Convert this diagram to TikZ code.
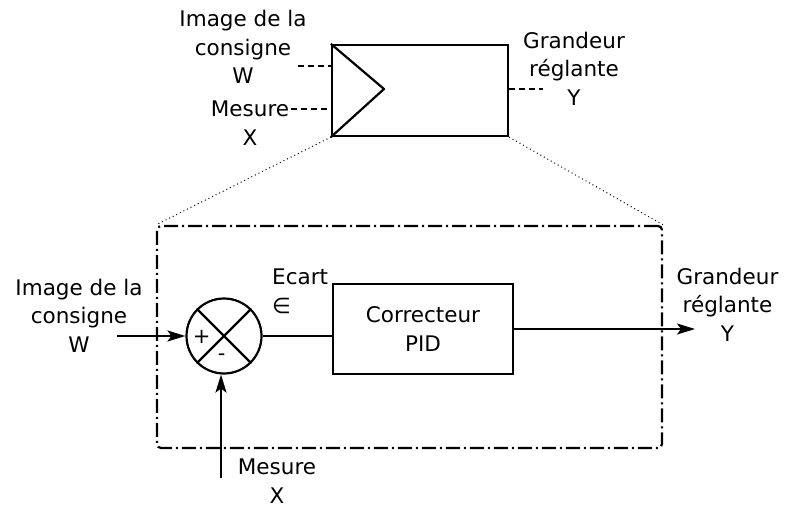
\documentclass[tikz,border=0pt]{standalone}
\usepackage{fontspec}
\setmainfont{DejaVu Sans}
\usetikzlibrary{arrows.meta,calc}
\begin{document}
\begin{tikzpicture}[x=1pt,y=-1pt,
  lbl/.style={align=center,font=\fontsize{21.5}{28.5}\selectfont,inner sep=0pt},
  blk/.style={draw,line width=2.2pt,inner sep=0pt},
  wire/.style={line width=2.2pt},
  arr/.style={line width=2.2pt,-{Stealth[length=18pt,width=11pt,inset=4pt]}},
  stub/.style={line width=2.2pt,dash pattern=on 6pt off 4pt},
  zoomline/.style={line width=1pt,dash pattern=on 1pt off 3pt},
  frm/.style={draw,line width=2.2pt,rounded corners=4pt,dash pattern=on 14pt off 4pt on 2pt off 4pt,inner sep=0pt}]
\useasboundingbox (0,0) rectangle (798,508);

% top box
\node[blk,minimum width=176pt,minimum height=91pt] (top) at (420,90.5) {};
\coordinate (apex) at (384,89);
\draw[wire,line join=round] (top.north west) -- (apex) -- (top.south west);

\coordinate (ws) at (298,66);
\coordinate (ms) at (291,109);
\coordinate (ys) at (543,89);
\draw[stub] (ws) -- (ws -| top.west);
\draw[stub] (ms) -- (ms -| top.west);
\draw[stub] (top.east |- ys) -- (ys);

\node[lbl] (tw) at (243,47) {Image de la\\consigne\\W};
\node[lbl] (tx) at (250,123.4) {Mesure\\X};
\node[lbl] (ty) at (574,68.7) {Grandeur\\réglante\\Y};

% frame
\node[frm,minimum width=505pt,minimum height=222pt] (frame) at (409.5,337) {};
\draw[zoomline] (top.south west) -- (frame.north west);
\draw[zoomline] (top.south east) -- (frame.north east);

% sum
\node[blk,circle,minimum size=75pt] (sum) at (224,336) {};
\draw[wire] (sum.north west) -- (sum.south east);
\draw[wire] (sum.north east) -- (sum.south west);
\node[font=\fontsize{21}{21}\selectfont,inner sep=0pt] (plus) at (201.7,336.7) {+};
\node[font=\fontsize{21}{21}\selectfont,inner sep=0pt] (minus) at (221.7,357) {-};

% PID
\node[blk,lbl,draw,line width=2.2pt,minimum width=180pt,minimum height=90pt] (pid) at (423,329) {Correcteur\\PID};

\coordinate (win) at (117,336);
\coordinate (xin) at (221,478);
\coordinate (yout) at (695,329);
\draw[arr] (win) -- (sum.west);
\draw[arr] (xin) -- (xin |- sum.south);
\draw[wire] (sum.east) -- (sum.east -| pid.west);
\draw[arr] (pid.east) -- (yout);

\node[lbl] (bw) at (79,315.4) {Image de la\\consigne\\W};
\node[lbl] (bx) at (277,481) {Mesure\\X};
\node[lbl,align=left,anchor=west] (ecart) at (272,291.3) {Ecart\\∈};
\node[lbl] (by) at (727.5,304.4) {Grandeur\\réglante\\Y};
\end{tikzpicture}
\end{document}
